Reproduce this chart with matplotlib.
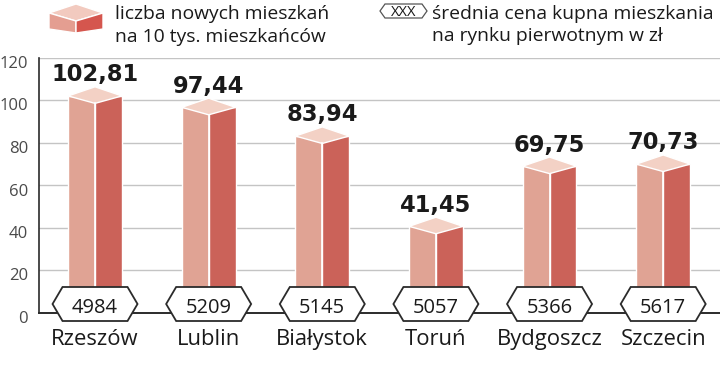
import matplotlib
matplotlib.use("Agg")
import matplotlib.pyplot as plt
from matplotlib.patches import Polygon
from matplotlib.transforms import ScaledTranslation

cities = ["Rzeszów", "Lublin", "Białystok", "Toruń", "Bydgoszcz", "Szczecin"]
values = [102.81, 97.44, 83.94, 41.45, 69.75, 70.73]
prices = [4984, 5209, 5145, 5057, 5366, 5617]
value_labels = ["102,81", "97,44", "83,94", "41,45", "69,75", "70,73"]
yticks = [0, 20, 40, 60, 80, 100, 120]

C_LEFT = "#E0A394"
C_RIGHT = "#CB6259"
C_TOP = "#F3D1C5"
DARK = "#2b2b2b"
FONT = "Open Sans"

fig = plt.figure(figsize=(7.2, 3.73), dpi=100)
ax = fig.add_axes([39 / 720, 1 - 312.5 / 373, 1 - 39 / 720, 255 / 373])
ax.set_xlim(-0.493, 5.5)
ax.set_ylim(0, 120)

hw = 0.237
for i, v in enumerate(values):
    ax.bar(i - hw, v - 0.9, width=hw, align="edge", color=C_LEFT,
           edgecolor="white", linewidth=1.0, zorder=3)
    ax.bar(i, v - 0.9, width=hw, align="edge", color=C_RIGHT,
           edgecolor="white", linewidth=1.0, zorder=3)
    top = Polygon([(i - hw, v - 0.9), (i, v + 3.4), (i + hw, v - 0.9), (i, v - 4.4)],
                  closed=True, facecolor=C_TOP, edgecolor="white", linewidth=1.0, zorder=4)
    ax.add_patch(top)
    ax.plot([i, i], [0, v - 4.4], color="white", lw=1.2, zorder=4)
    ax.text(i, v + 6.0, value_labels[i], ha="center", va="baseline",
            fontsize=16.3, fontweight="bold", family="DejaVu Sans", color="#1a1a1a", zorder=5)
    # price hexagon
    hx = 0.374
    fx = 0.286
    hexa = Polygon([(i - hx, 4), (i - fx, 12), (i + fx, 12), (i + hx, 4), (i + fx, -4), (i - fx, -4)],
                   closed=True, facecolor="white", edgecolor=DARK, linewidth=1.3,
                   zorder=6, clip_on=False)
    ax.add_patch(hexa)
    ax.text(i, -0.2, str(prices[i]), ha="center", va="baseline", fontsize=14.5,
            family=FONT, color="#1a1a1a", zorder=7, clip_on=False)
    ax.text(i, -15.3, cities[i], ha="center", va="baseline", fontsize=15.8,
            family=FONT, color="#1a1a1a", zorder=7, clip_on=False)

ax.set_yticks(yticks)
ax.set_yticklabels([str(t) for t in yticks], fontsize=12, family=FONT, color="#4a4a4a")
ax.tick_params(axis="y", length=0, pad=8)
off = ScaledTranslation(0, -4.5 / 100, fig.dpi_scale_trans)
for lab in ax.get_yticklabels():
    lab.set_transform(lab.get_transform() + off)
ax.set_xticks([])
ax.grid(axis="y", color="#c4c4c4", linewidth=1.0, zorder=0)
ax.set_axisbelow(True)
for s in ["top", "right"]:
    ax.spines[s].set_visible(False)
ax.spines["left"].set_color(DARK)
ax.spines["left"].set_linewidth(1.2)
ax.spines["bottom"].set_color(DARK)
ax.spines["bottom"].set_linewidth(1.4)
ax.spines["bottom"].set_zorder(2.5)

# legend overlay in pixel coordinates
lg = fig.add_axes([0, 0, 1, 1], zorder=10)
lg.set_xlim(0, 720)
lg.set_ylim(373, 0)
lg.axis("off")
lg.patch.set_alpha(0)
lg.add_patch(Polygon([(49, 13), (76, 4), (103, 13), (76, 21)], closed=True,
                     facecolor="#F2CABF", edgecolor="white", lw=1))
lg.add_patch(Polygon([(49, 13), (76, 21), (76, 33), (49, 29)], closed=True,
                     facecolor="#E49E91", edgecolor="white", lw=1))
lg.add_patch(Polygon([(76, 21), (103, 13), (103, 29), (76, 33)], closed=True,
                     facecolor="#D5564E", edgecolor="white", lw=1))
lg.text(115, 19, "liczba nowych mieszkań", fontsize=13.9, family=FONT,
        color="#1a1a1a", va="baseline", ha="left")
lg.text(115, 42.5, "na 10 tys. mieszkańców", fontsize=13.9, family=FONT,
        color="#1a1a1a", va="baseline", ha="left")
lg.add_patch(Polygon([(380, 11), (385, 4), (422, 4), (427, 11), (422, 18), (385, 18)],
                     closed=True, facecolor="white", edgecolor="#555555", lw=0.9))
lg.text(403.5, 16, "XXX", fontsize=10.5, family=FONT, color="#1a1a1a",
        va="baseline", ha="center")
lg.text(432, 19, "średnia cena kupna mieszkania", fontsize=13.9, family=FONT,
        color="#1a1a1a", va="baseline", ha="left")
lg.text(432, 41, "na rynku pierwotnym w zł", fontsize=13.9, family=FONT,
        color="#1a1a1a", va="baseline", ha="left")

fig.savefig("out.png", dpi=100)
